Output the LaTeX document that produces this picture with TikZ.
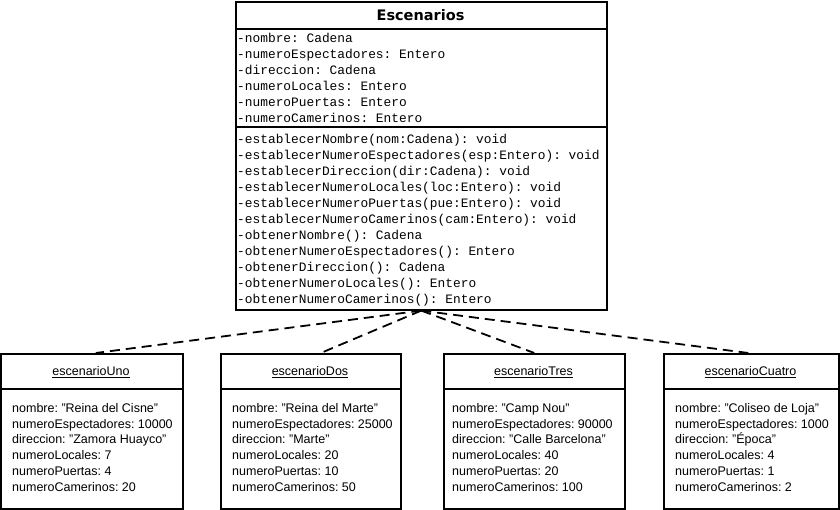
\documentclass[tikz,border=0pt]{standalone}
\usepackage{fontspec}
\setmainfont{Liberation Sans}
\newfontfamily\codefont{Liberation Mono}
\newfontfamily\titlefont{DejaVu Sans}
\frenchspacing
\begin{document}
\begin{tikzpicture}[x=1pt,y=-1pt,
  umlbox/.style={draw, line width=1.6pt, rectangle, inner sep=0pt, anchor=north west},
  sepline/.style={line width=1.6pt},
  codetext/.style={anchor=north west, inner sep=0pt, align=left,
    font=\codefont\fontsize{12.85}{15.95}\selectfont},
  objtitle/.style={inner sep=0pt, font=\fontsize{12.5}{15}\selectfont},
  objtext/.style={anchor=north west, inner sep=0pt, align=left,
    font=\fontsize{12.5}{15.8}\selectfont},
  instanceof/.style={line width=1.8pt, dash pattern=on 10pt off 6pt}
]
\useasboundingbox (0,0) rectangle (840,510);

% class Escenarios
\node[umlbox, minimum width=371pt, minimum height=308pt] (main) at (235,1) {};
\draw[sepline] (235,29) -- (606,29);
\draw[sepline] (235,127) -- (606,127);
\node[font=\titlefont\bfseries\fontsize{14.5}{17}\selectfont] (mtitle) at (420.5,15.5) {Escenarios};
\node[codetext] (attrs) at (237,33) {%
-nombre: Cadena\\
-numeroEspectadores: Entero\\
-direccion: Cadena\\
-numeroLocales: Entero\\
-numeroPuertas: Entero\\
-numeroCamerinos: Entero};
\node[codetext] (ops) at (237,134) {%
-establecerNombre(nom:Cadena): void\\
-establecerNumeroEspectadores(esp:Entero): void\\
-establecerDireccion(dir:Cadena): void\\
-establecerNumeroLocales(loc:Entero): void\\
-establecerNumeroPuertas(pue:Entero): void\\
-establecerNumeroCamerinos(cam:Entero): void\\
-obtenerNombre(): Cadena\\
-obtenerNumeroEspectadores(): Entero\\
-obtenerDireccion(): Cadena\\
-obtenerNumeroLocales(): Entero\\
-obtenerNumeroCamerinos(): Entero};

% object instances
\node[umlbox, minimum width=182pt, minimum height=155pt] (uno) at (0,353) {};
\draw[sepline] (0,389) -- (182,389);
\node[objtitle] (unoT) at (91,372) {\underline{escenarioUno}};
\node[objtext] (unoA) at (12,403) {%
nombre: "Reina del Cisne"\\
numeroEspectadores: 10000\\
direccion: "Zamora Huayco"\\
numeroLocales: 7\\
numeroPuertas: 4\\
numeroCamerinos: 20};

\node[umlbox, minimum width=180pt, minimum height=155pt] (dos) at (220,353) {};
\draw[sepline] (220,389) -- (400,389);
\node[objtitle] (dosT) at (310,372) {\underline{escenarioDos}};
\node[objtext] (dosA) at (232,403) {%
nombre: "Reina del Marte"\\
numeroEspectadores: 25000\\
direccion: "Marte"\\
numeroLocales: 20\\
numeroPuertas: 10\\
numeroCamerinos: 50};

\node[umlbox, minimum width=181pt, minimum height=155pt] (tres) at (443,353) {};
\draw[sepline] (443,389) -- (624,389);
\node[objtitle] (tresT) at (533.5,372) {\underline{escenarioTres}};
\node[objtext] (tresA) at (452,403) {%
nombre: "Camp Nou"\\
numeroEspectadores: 90000\\
direccion: "Calle Barcelona"\\
numeroLocales: 40\\
numeroPuertas: 20\\
numeroCamerinos: 100};

\node[umlbox, minimum width=175pt, minimum height=155pt] (cuatro) at (663,353) {};
\draw[sepline] (663,389) -- (838,389);
\node[objtitle] (cuatroT) at (750.5,372) {\underline{escenarioCuatro}};
\node[objtext] (cuatroA) at (675,403) {%
nombre: "Coliseo de Loja"\\
numeroEspectadores: 1000\\
direccion: "Época"\\
numeroLocales: 4\\
numeroPuertas: 1\\
numeroCamerinos: 2};

% instance links
\draw[instanceof] (main.south) -- ([xshift=4pt]uno.north);
\draw[instanceof] (main.south) -- ([xshift=10pt]dos.north);
\draw[instanceof] (main.south) -- (tres.north);
\draw[instanceof] (main.south) -- ([xshift=-3pt]cuatro.north);
\end{tikzpicture}
\end{document}
